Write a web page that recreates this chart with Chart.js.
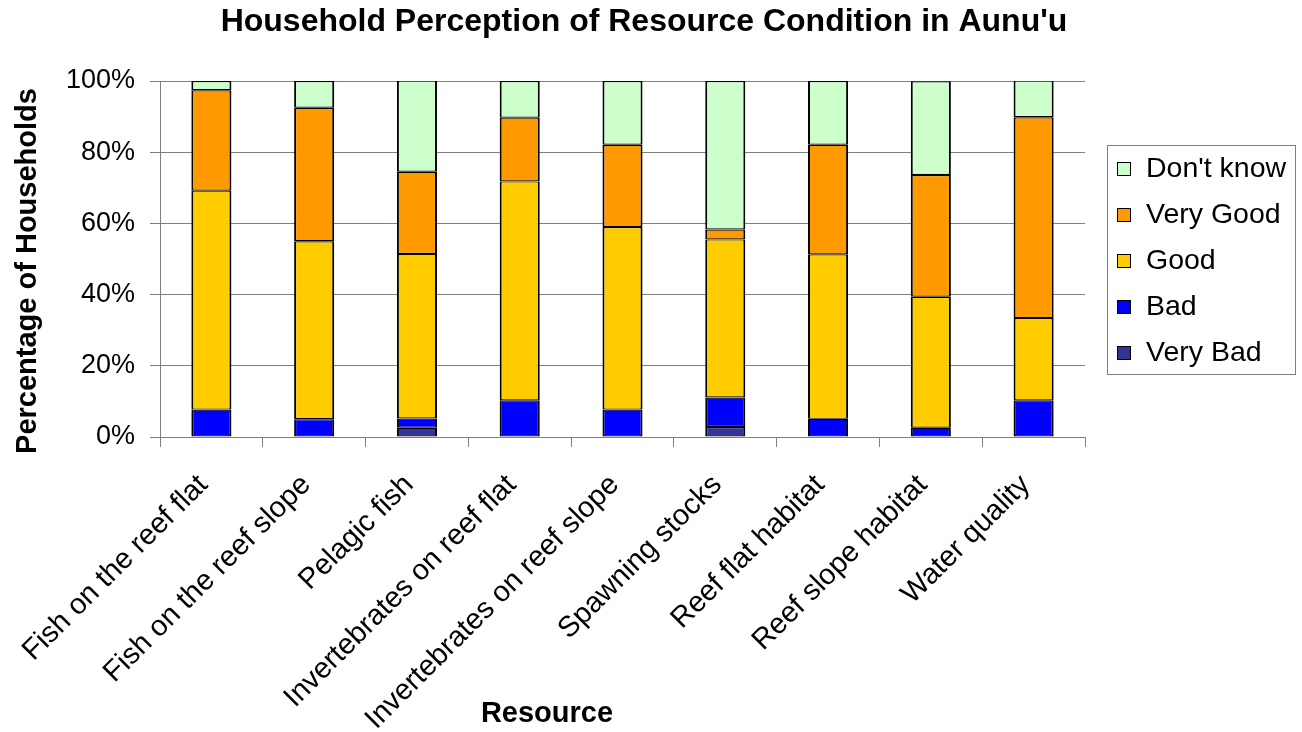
<!DOCTYPE html>
<html>
<head>
<meta charset="utf-8">
<title>Household Perception of Resource Condition in Aunu'u</title>
<script src="https://cdn.jsdelivr.net/npm/chart.js@4.4.1/dist/chart.umd.min.js"></script>
<style>
  html, body { margin: 0; padding: 0; background: #fff; }
  #chart { display: block; }
</style>
</head>
<body>
<canvas id="chart" width="1302" height="732"></canvas>
<script>
// Resources surveyed
var resources = [
    'Fish on the reef flat',
    'Fish on the reef slope',
    'Pelagic fish',
    'Invertebrates on reef flat',
    'Invertebrates on reef slope',
    'Spawning stocks',
    'Reef flat habitat',
    'Reef slope habitat',
    'Water quality'
];

// Percentage of households per answer
var veryBad  = [0, 0, 2.6, 0, 0, 2.8, 0, 0, 0];
var bad      = [7.7, 5.0, 2.6, 10.3, 7.7, 8.3, 5.1, 2.6, 10.3];
var good     = [61.5, 50.0, 46.2, 61.5, 51.3, 44.4, 46.2, 36.8, 23.1];
var veryGood = [28.2, 37.5, 23.1, 17.9, 23.1, 2.8, 30.8, 34.2, 56.4];
var dontKnow = [2.6, 7.5, 25.6, 10.3, 17.9, 41.7, 17.9, 26.3, 10.3];

var yTicks = [0, 20, 40, 60, 80, 100];

var FONT = '"Liberation Sans", Arial, sans-serif';
var GREY = '#808080';

function makeSet(label, data, color) {
    return {
        label: label,
        data: data,
        backgroundColor: color,
        borderColor: '#000',
        borderWidth: { top: 1.2, bottom: 1.2, left: 2, right: 2 },
        borderSkipped: false,
        categoryPercentage: 1,
        barPercentage: 0.39
    };
}

// Framed legend on the right, added as its own layout box
var boxedLegend = {
    id: 'boxedLegend',
    beforeInit: function (chart) {
        var box = {
            position: 'right',
            weight: 10,
            fullSize: false,
            options: {},
            isHorizontal: function () { return false; },
            update: function (maxWidth, maxHeight) {
                this.width = 203;
                this.height = maxHeight;
            },
            draw: function () {
                var ctx = chart.ctx;
                var area = chart.chartArea;
                var x0 = this.left + 22;
                var y0 = area.top + 64;
                ctx.save();
                ctx.fillStyle = '#fff';
                ctx.fillRect(x0, y0, 189, 229);
                ctx.strokeStyle = GREY;
                ctx.lineWidth = 1;
                ctx.strokeRect(x0 + 0.5, y0 + 0.5, 188, 229);
                var sets = chart.data.datasets.slice().reverse();
                sets.forEach(function (ds, i) {
                    var cy = y0 + 24 + i * 46;
                    ctx.fillStyle = ds.backgroundColor;
                    ctx.fillRect(x0 + 10, cy - 7, 14, 14);
                    ctx.strokeStyle = '#000';
                    ctx.strokeRect(x0 + 10.5, cy - 6.5, 13, 13);
                    ctx.fillStyle = '#000';
                    ctx.font = '28.5px ' + FONT;
                    ctx.textAlign = 'left';
                    ctx.textBaseline = 'middle';
                    ctx.fillText(ds.label, x0 + 39, cy);
                });
                ctx.restore();
            }
        };
        Chart.layouts.addBox(chart, box);
    }
};

// Axis titles
var axisTitles = {
    id: 'axisTitles',
    afterDraw: function (chart) {
        var ctx = chart.ctx;
        ctx.save();
        ctx.fillStyle = '#000';
        ctx.font = 'bold 29px ' + FONT;
        ctx.textAlign = 'center';
        ctx.textBaseline = 'middle';
        ctx.fillText('Resource', 547, 714);
        ctx.translate(28, 271);
        ctx.rotate(-Math.PI / 2);
        ctx.fillText('Percentage of Households', 0, 0);
        ctx.restore();
    }
};

document.addEventListener('DOMContentLoaded', function () {
    var ctx = document.getElementById('chart').getContext('2d');
    new Chart(ctx, {
        type: 'bar',
        data: {
            labels: resources,
            datasets: [
                makeSet('Very Bad', veryBad, '#333399'),
                makeSet('Bad', bad, '#0000FF'),
                makeSet('Good', good, '#FFCC00'),
                makeSet('Very Good', veryGood, '#FF9900'),
                makeSet("Don't know", dontKnow, '#CCFFCC')
            ]
        },
        options: {
            responsive: false,
            devicePixelRatio: 1,
            animation: false,
            layout: { padding: { right: 14 } },
            plugins: {
                legend: { display: false },
                tooltip: { enabled: false },
                title: {
                    display: true,
                    text: "Household Perception of Resource Condition in Aunu'u",
                    color: '#000',
                    font: { family: FONT, size: 32, weight: 'bold' },
                    padding: { top: 3, bottom: 39.6 }
                }
            },
            scales: {
                x: {
                    stacked: true,
                    offset: true,
                    grid: {
                        offset: true,
                        drawOnChartArea: false,
                        drawTicks: true,
                        tickLength: 10,
                        color: GREY
                    },
                    border: { color: GREY, width: 1 },
                    ticks: {
                        color: '#000',
                        font: { family: FONT, size: 29 },
                        maxRotation: 45,
                        minRotation: 45,
                        autoSkip: false,
                        padding: 21,
                        labelOffset: -8
                    },
                    afterFit: function (scale) {
                        scale.height = 295;
                        scale.paddingLeft = 0;
                        scale.paddingRight = 0;
                    }
                },
                y: {
                    stacked: true,
                    min: 0,
                    max: 100,
                    grid: { color: GREY, tickLength: 10 },
                    border: { color: GREY, width: 1 },
                    afterBuildTicks: function (scale) {
                        scale.ticks = yTicks.map(function (v) { return { value: v }; });
                    },
                    ticks: {
                        color: '#000',
                        font: { family: FONT, size: 27 },
                        padding: 15,
                        callback: function (v) { return v + '%'; }
                    },
                    afterFit: function (scale) {
                        scale.width = 160;
                    }
                }
            }
        },
        plugins: [boxedLegend, axisTitles]
    });
});
</script>
</body>
</html>
